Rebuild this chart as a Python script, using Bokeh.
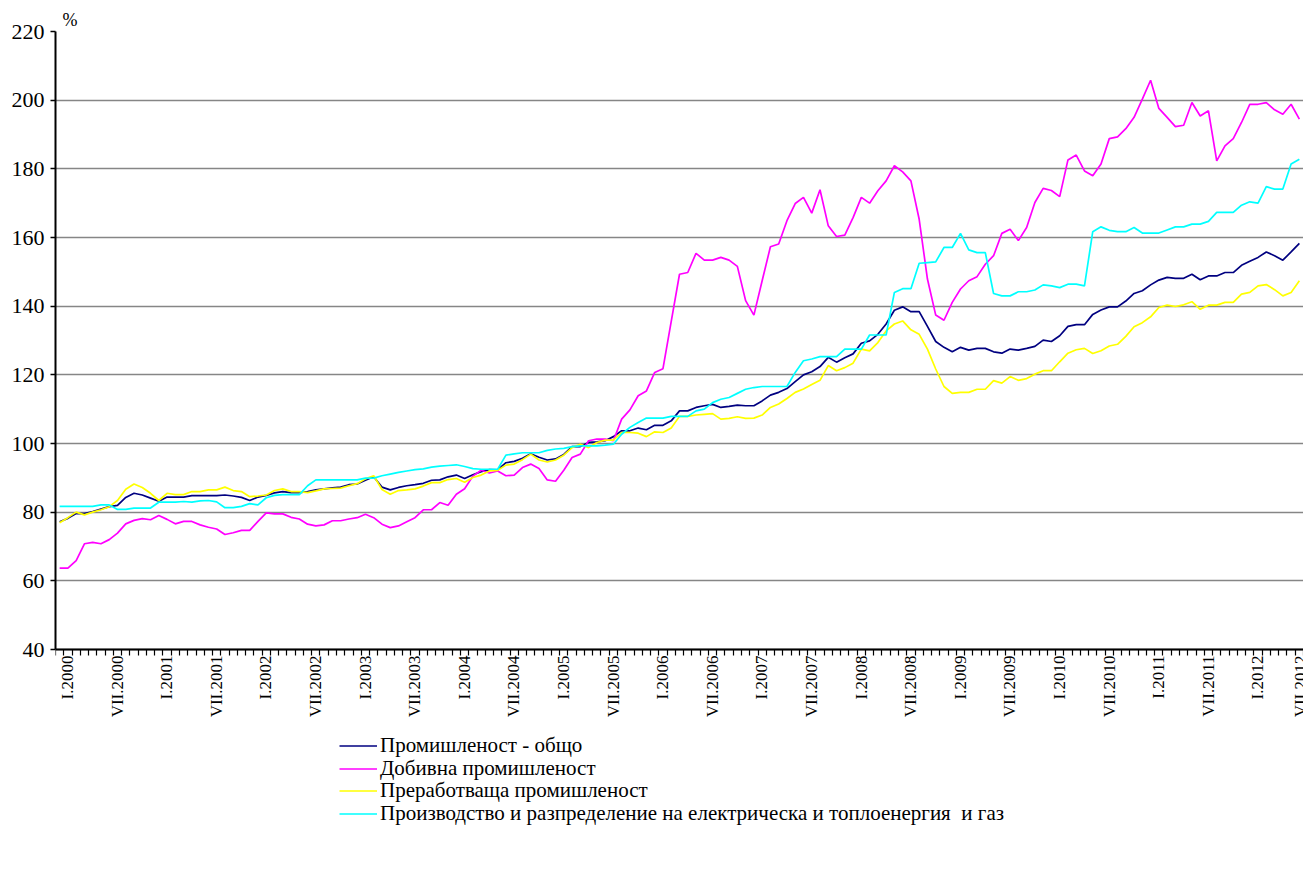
import math
from bokeh.plotting import figure
from bokeh.core.properties import value
from bokeh.models import Range1d, FixedTicker, Legend, LegendItem
from bokeh.embed import file_html
from bokeh.resources import INLINE

FONT = "Liberation Serif"

roman = ["I", "II", "III", "IV", "V", "VI", "VII", "VIII", "IX", "X", "XI", "XII"]
years = list(range(2000, 2013))
months = [f"{roman[m]}.{y}" for y in years for m in range(12)][:151]

series_names = [
    "Промишленост - общо",
    "Добивна промишленост",
    "Преработваща промишленост",
    "Производство и разпределение на електрическа и топлоенергия  и газ",
]
series_colors = ["#000080", "#FF00FF", "#FFFF00", "#00FFFF"]

total = [
    77.2, 78.2, 79.6, 79.6, 80.2, 80.9, 81.6, 82.0, 84.3, 85.5,
    85.0, 84.1, 83.2, 84.4, 84.4, 84.4, 84.8, 84.8, 84.8, 84.8,
    85.0, 84.7, 84.3, 83.4, 84.4, 84.9, 85.6, 86.0, 85.7, 85.7,
    86.0, 86.5, 86.8, 87.1, 87.3, 88.0, 88.2, 89.3, 90.3, 87.3,
    86.5, 87.2, 87.7, 88.0, 88.4, 89.3, 89.4, 90.3, 90.8, 89.8,
    90.9, 91.8, 92.4, 92.3, 94.4, 94.8, 95.7, 97.0, 96.0, 95.2,
    95.5, 96.8, 99.1, 99.1, 100.3, 100.5, 100.8, 102.0, 103.7, 103.7,
    104.5, 104.0, 105.3, 105.3, 106.6, 109.5, 109.5, 110.5, 111.0, 111.4,
    110.5, 110.8, 111.2, 111.0, 111.0, 112.4, 114.1, 114.9, 116.0, 118.0,
    120.0, 120.9, 122.4, 125.1, 123.7, 125.0, 126.1, 129.2, 129.9, 131.8,
    134.8, 138.8, 139.8, 138.4, 138.4, 134.1, 129.7, 128.0, 126.7, 128.0,
    127.2, 127.7, 127.7, 126.7, 126.3, 127.5, 127.2, 127.7, 128.3, 130.1,
    129.7, 131.4, 134.1, 134.6, 134.6, 137.6, 138.9, 139.8, 139.8, 141.5,
    143.7, 144.5, 146.2, 147.6, 148.4, 148.1, 148.1, 149.3, 147.7, 148.8,
    148.8, 149.8, 149.8, 151.9, 153.1, 154.2, 155.8, 154.7, 153.4, 155.8,
    158.3,
]

mining = [
    63.7, 63.7, 65.9, 70.8, 71.2, 70.8, 72.0, 73.9, 76.6, 77.6,
    78.1, 77.8, 79.0, 77.9, 76.6, 77.3, 77.3, 76.3, 75.6, 75.1,
    73.5, 74.0, 74.7, 74.7, 77.3, 79.8, 79.5, 79.5, 78.5, 78.0,
    76.5, 76.0, 76.3, 77.5, 77.5, 78.0, 78.4, 79.4, 78.4, 76.5,
    75.5, 76.0, 77.2, 78.4, 80.7, 80.7, 82.8, 82.0, 85.2, 86.8,
    90.5, 92.2, 91.4, 92.0, 90.6, 90.8, 93.0, 94.0, 92.7, 89.4,
    89.0, 92.2, 95.9, 96.9, 100.8, 101.3, 101.3, 100.8, 107.1, 109.8,
    113.9, 115.3, 120.7, 121.8, 135.6, 149.3, 149.8, 155.4, 153.4, 153.4,
    154.2, 153.4, 151.6, 141.6, 137.4, 147.4, 157.3, 158.1, 164.9, 169.9,
    171.7, 167.1, 173.9, 163.4, 160.3, 160.7, 165.8, 171.7, 170.0, 173.6,
    176.5, 180.9, 179.1, 176.5, 165.3, 147.9, 137.4, 135.9, 141.1, 145.0,
    147.4, 148.6, 152.2, 154.7, 161.2, 162.4, 159.1, 162.9, 170.2, 174.3,
    173.7, 171.9, 182.6, 184.0, 179.4, 178.0, 181.4, 188.8, 189.3, 191.7,
    195.0, 200.3, 205.8, 197.6, 195.0, 192.3, 192.7, 199.3, 195.4, 196.9,
    182.3, 186.7, 188.8, 193.5, 198.8, 198.8, 199.3, 197.2, 195.9, 198.8,
    194.5,
]

manufacturing = [
    76.9, 78.4, 80.0, 79.2, 80.0, 80.7, 81.6, 83.4, 86.7, 88.2,
    87.2, 85.5, 83.4, 85.5, 85.1, 85.1, 86.0, 86.0, 86.5, 86.5,
    87.3, 86.3, 86.0, 84.5, 84.7, 85.0, 86.3, 86.8, 86.0, 86.0,
    85.7, 86.2, 86.8, 86.9, 87.0, 87.7, 88.3, 89.7, 90.6, 86.6,
    85.2, 86.3, 86.5, 86.8, 87.6, 88.6, 88.6, 89.5, 89.8, 88.7,
    90.1, 90.8, 92.0, 92.2, 93.7, 94.0, 95.3, 96.9, 95.2, 94.6,
    95.2, 96.6, 98.8, 99.8, 98.8, 100.3, 101.0, 101.0, 103.2, 103.2,
    103.0, 102.0, 103.4, 103.2, 104.5, 107.9, 107.9, 108.3, 108.5, 108.7,
    107.1, 107.3, 107.8, 107.3, 107.4, 108.3, 110.5, 111.5, 113.1, 114.9,
    115.9, 117.2, 118.4, 122.7, 121.2, 122.1, 123.4, 127.5, 127.0, 129.4,
    132.8, 134.8, 135.7, 133.1, 131.8, 127.5, 121.7, 116.6, 114.6, 114.9,
    114.9, 115.8, 115.8, 118.3, 117.6, 119.5, 118.4, 118.9, 120.2, 121.2,
    121.2, 123.8, 126.3, 127.3, 127.7, 126.2, 127.0, 128.4, 128.9, 131.2,
    134.0, 135.2, 136.9, 139.6, 140.3, 139.9, 140.4, 141.3, 139.1, 140.3,
    140.3, 141.1, 141.1, 143.5, 144.0, 145.9, 146.3, 144.8, 143.0, 144.0,
    147.4,
]

energy = [
    81.7, 81.7, 81.7, 81.7, 81.7, 82.1, 82.1, 80.8, 80.8, 81.2,
    81.2, 81.2, 82.9, 82.9, 82.9, 83.1, 82.9, 83.3, 83.4, 83.0,
    81.3, 81.3, 81.7, 82.5, 82.1, 84.2, 84.9, 85.1, 85.1, 85.1,
    87.7, 89.4, 89.4, 89.4, 89.4, 89.4, 89.4, 89.9, 89.9, 90.6,
    91.1, 91.6, 92.0, 92.4, 92.6, 93.1, 93.4, 93.6, 93.8, 93.3,
    92.7, 92.5, 92.5, 92.5, 96.6, 97.0, 97.3, 97.3, 97.3, 98.0,
    98.4, 98.6, 99.1, 99.3, 99.3, 99.3, 99.5, 99.8, 102.7, 104.7,
    106.1, 107.4, 107.4, 107.4, 107.9, 107.9, 107.9, 109.5, 110.0, 111.9,
    112.9, 113.4, 114.6, 115.8, 116.3, 116.6, 116.6, 116.6, 116.6, 120.7,
    124.1, 124.6, 125.3, 125.3, 125.3, 127.5, 127.5, 127.5, 131.6, 131.6,
    131.6, 144.0, 145.1, 145.1, 152.5, 152.7, 152.9, 157.1, 157.1, 161.2,
    156.4, 155.6, 155.6, 143.7, 143.0, 143.0, 144.2, 144.2, 144.7, 146.2,
    145.9, 145.4, 146.4, 146.4, 145.9, 161.7, 163.1, 162.1, 161.7, 161.7,
    162.9, 161.3, 161.3, 161.3, 162.2, 163.1, 163.1, 163.9, 163.9, 164.7,
    167.3, 167.3, 167.3, 169.4, 170.4, 170.0, 174.8, 174.1, 174.1, 181.4,
    182.8,
]

y_ticks = [40, 60, 80, 100, 120, 140, 160, 180, 200, 220]

n = len(months)
x = list(range(n))
label_pos = list(range(0, n, 6))

# layout in pixels: frame from y=31 to the bottom of the figure; value axis 40..220 spans 618 px
W, H = 1303, 872
TOP, AXIS_Y = 31, 649
per_px = (220 - 40) / (AXIS_Y - TOP)
y_bottom = 40 - (H - AXIS_Y) * per_px

p = figure(
    width=W, height=H,
    output_backend="svg", toolbar_location=None,
    x_range=Range1d(-0.5, n - 0.5), y_range=Range1d(y_bottom, 220),
    min_border_left=55, min_border_right=0, min_border_top=TOP, min_border_bottom=0,
)
p.outline_line_color = None
p.background_fill_color = "white"
p.border_fill_color = "white"

p.title.text = "%"
p.title.align = "left"
p.title.offset = 7
p.title.text_font = FONT
p.title.text_font_style = "normal"
p.title.text_font_size = "18px"
p.title.text_color = "black"
p.title.standoff = 4

p.xgrid.visible = False
p.ygrid.ticker = FixedTicker(ticks=y_ticks)
p.ygrid.grid_line_color = "#868686"
p.ygrid.grid_line_width = 1.5

p.yaxis.ticker = FixedTicker(ticks=y_ticks)
p.yaxis.bounds = (40, 220)
p.yaxis.axis_line_color = "black"
p.yaxis.axis_line_width = 2
p.yaxis.major_tick_out = 5
p.yaxis.major_tick_in = 0
p.yaxis.major_tick_line_width = 1.5
p.yaxis.minor_tick_line_color = None
p.yaxis.major_label_text_font = FONT
p.yaxis.major_label_text_font_size = "22px"
p.yaxis.major_label_text_color = "black"
p.yaxis.major_label_standoff = 6

# category axis at y = 40 with a tick at every month boundary
p.xaxis.fixed_location = 40
p.xaxis.ticker = FixedTicker(ticks=[], minor_ticks=[i - 0.5 for i in range(n + 1)])
p.xaxis.major_tick_line_color = None
p.xaxis.major_tick_out = 0
p.xaxis.major_tick_in = 0
p.xaxis.minor_tick_line_color = "black"
p.xaxis.minor_tick_out = 6
p.xaxis.minor_tick_in = 0
p.xaxis.minor_tick_line_width = 1.2
p.xaxis.axis_line_color = "black"
p.xaxis.axis_line_width = 2
p.xaxis.major_label_text_font_size = "0px"
p.xaxis.major_label_standoff = 0

for ys, color in zip([total, mining, manufacturing, energy], series_colors):
    p.line(x, ys, line_color=color, line_width=1.7)

# month labels, vertical, under the category axis
lab_offsets = [8] * len(label_pos)
lab_offsets[-1] = 1
p.text(
    x=label_pos, y=[40 - 6 * per_px] * len(label_pos), text=[months[i] for i in label_pos],
    x_offset=lab_offsets,
    angle=math.pi / 2, text_align="right", text_baseline="middle",
    text_font=value(FONT), text_font_size=value("17px"), text_color="black",
)

# legend under the chart, one row per series
row_bottoms = [114, 91, 69, 46]
for name, color, yb in zip(series_names, series_colors, row_bottoms):
    r = p.line([-100, -99], [-100, -99], line_color=color, line_width=1.7)
    lg = Legend(
        items=[LegendItem(label=name, renderers=[r])],
        location=(284, yb), orientation="vertical",
        border_line_color=None, background_fill_alpha=0,
        label_text_font=FONT, label_text_font_size="21px", label_text_color="black",
        glyph_width=38, glyph_height=23, label_height=23, spacing=0,
        padding=0, margin=0, label_standoff=3,
    )
    p.add_layout(lg, "center")

open("out.html", "w").write(file_html(p, INLINE))
